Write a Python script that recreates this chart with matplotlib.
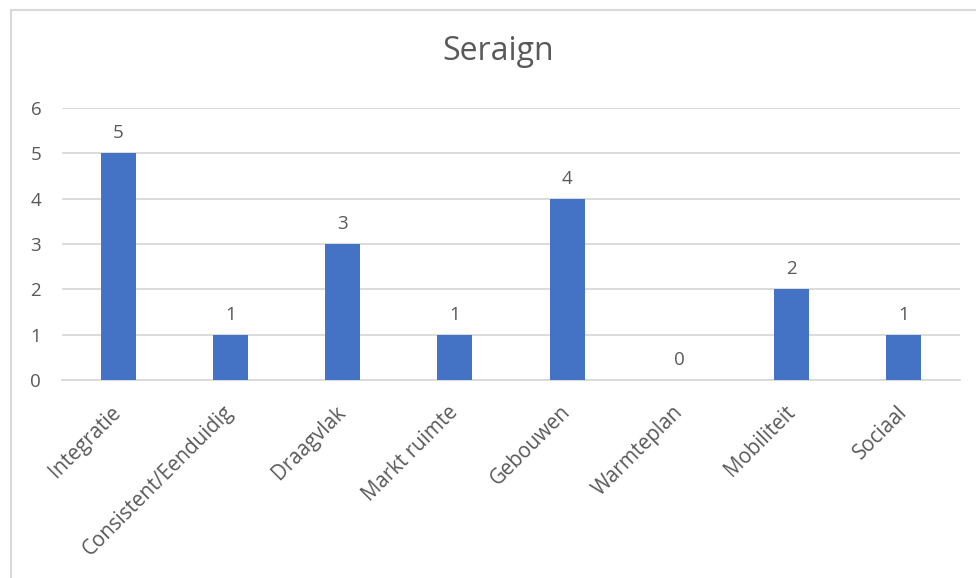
import matplotlib.pyplot as plt
from matplotlib.patches import Rectangle

categories = ['Integratie', 'Consistent/Eenduidig', 'Draagvlak', 'Markt ruimte',
              'Gebouwen', 'Warmteplan', 'Mobiliteit', 'Sociaal']
values = [5, 1, 3, 1, 4, 0, 2, 1]
title = 'Seraign'

bar_color = '#4472C4'
text_color = '#595959'
grid_color = '#D9D9D9'

plt.rcParams['font.family'] = ['Open Sans', 'DejaVu Sans']

fig = plt.figure(figsize=(9.76, 5.78), dpi=100)
# chart frame (partly cropped on right and bottom)
fig.patches.append(Rectangle((10.5 / 976, -0.05), 1.0, (578 - 9.5) / 578 + 0.05,
                             transform=fig.transFigure, fill=False,
                             edgecolor=grid_color, linewidth=1.5))

ax = fig.add_axes([62 / 976, 198 / 578, 898 / 976, 272 / 578])
x = range(len(categories))
bars = ax.bar(x, values, width=0.31, color=bar_color, zorder=3)
for xi, v in zip(x, values):
    ax.annotate(str(v), (xi, v), xytext=(0, 8), textcoords='offset points',
                ha='center', va='bottom', fontsize=13.5, color=text_color)

ax.set_xlim(-0.5, len(categories) - 0.5)
ax.set_ylim(0, 6)
ax.set_yticks(range(7))
ax.yaxis.grid(True, color=grid_color, linewidth=1.3, zorder=0)
for s in ['top', 'right', 'left']:
    ax.spines[s].set_visible(False)
ax.spines['bottom'].set_color(grid_color)
ax.spines['bottom'].set_linewidth(1.3)
ax.tick_params(length=0, colors=text_color, labelsize=13.5)
ax.tick_params(axis='y', pad=15)
ax.tick_params(axis='x', pad=21, labelsize=14.8)
ax.set_xticks(list(x))
ax.set_xticklabels(categories, rotation=45, ha='right', va='center',
                   rotation_mode='anchor')

fig.text(498 / 976, 1 - 52 / 578, title, ha='center', va='center', fontsize=23,
         color=text_color)

fig.savefig('out.png', dpi=100)
